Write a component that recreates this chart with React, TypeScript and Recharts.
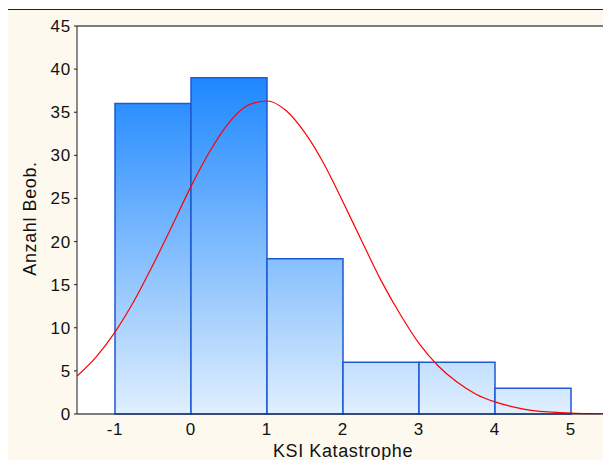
import React from "react";
import {
  Bar,
  CartesianGrid,
  ComposedChart,
  Line,
  XAxis,
  YAxis,
} from "recharts";

// ─── Data ────────────────────────────────────────────────────

const binCenters = [-0.5, 0.5, 1.5, 2.5, 3.5, 4.5];
const binCounts = [36, 39, 18, 6, 6, 3];

const curveX = [
  -1.5, -1.25, -1, -0.75, -0.5, -0.25, 0, 0.25, 0.5, 0.75, 1, 1.25, 1.5, 1.75, 2,
  2.25, 2.5, 2.75, 3, 3.25, 3.5, 3.75, 4, 4.25, 4.5, 4.75, 5, 5.25, 5.5,
];
const curveY = [
  4.4, 6.6, 9.5, 13.1, 17.3, 21.8, 26.4, 30.5, 33.8, 35.8, 36.3, 35.2, 32.6, 29.0, 24.6,
  20.0, 15.5, 11.6, 8.2, 5.6, 3.7, 2.3, 1.4, 0.8, 0.4, 0.22, 0.11, 0.05, 0.02,
];

const xTicks = [-1, 0, 1, 2, 3, 4, 5];
const yTicks = [0, 5, 10, 15, 20, 25, 30, 35, 40, 45];

const binData = binCenters.map((x, i) => ({ x, count: binCounts[i] }));
const curveData = curveX.map((x, i) => ({ x, fit: curveY[i] }));

// ─── Styles ──────────────────────────────────────────────────

const font = "Arial, 'Liberation Sans', sans-serif";
const tickStyle = { fill: "#111", fontSize: 17, fontFamily: font, letterSpacing: 0.8 };
const frameStroke = "#1a1a1a";

function YLabel({ viewBox }: { viewBox?: { x: number; y: number; height: number } }) {
  if (!viewBox) return null;
  const cx = 30;
  const cy = viewBox.y + viewBox.height / 2 - 1.5;
  return (
    <text
      x={cx}
      y={cy}
      transform={`rotate(-90 ${cx} ${cy})`}
      textAnchor="middle"
      dominantBaseline="central"
      fill="#111"
      fontSize={18}
      letterSpacing={0.6}
      fontFamily={font}
    >
      Anzahl Beob.
    </text>
  );
}

export default function App() {
  return (
    <div
      style={{
        position: "relative",
        margin: -8,
        width: 611,
        height: 468,
        overflow: "hidden",
        fontFamily: font,
      }}
    >
      <div
        style={{
          position: "absolute",
          left: 6,
          top: 9,
          width: 640,
          height: 480,
          background: "#fdf9ee",
          border: "1px solid #222",
        }}
      />
      <div style={{ position: "absolute", left: 0, top: 0 }}>
        <ComposedChart
          width={611}
          height={468}
          data={binData}
          margin={{ top: 26, right: 2, bottom: 0, left: 0 }}
          barCategoryGap={0}
          barGap={0}
        >
          <defs>
            <linearGradient id="binFill" gradientUnits="userSpaceOnUse" x1="0" y1="81" x2="0" y2="414">
              <stop offset="0%" stopColor="#1f88ff" />
              <stop offset="100%" stopColor="#e0effd" />
            </linearGradient>
          </defs>
          <CartesianGrid
            vertical={false}
            horizontal
            fill="#ffffff"
            stroke="#e0e0e0"
            strokeWidth={2}
            xAxisId="main"
          />
          <XAxis
            xAxisId="bins"
            dataKey="x"
            type="number"
            domain={[-1.5, 5.5]}
            allowDataOverflow
            height={0}
            hide
          />
          <XAxis
            xAxisId="main"
            dataKey="x"
            type="number"
            domain={[-1.5, 5.5]}
            ticks={xTicks}
            allowDataOverflow
            height={54}
            tick={tickStyle}
            tickLine={false}
            tickMargin={3}
            axisLine={{ stroke: frameStroke }}
            label={{
              value: "KSI Katastrophe",
              position: "insideBottom",
              offset: 11,
              fill: "#111",
              fontSize: 18,
              letterSpacing: 0.6,
              fontFamily: font,
            }}
          />
          <XAxis
            xAxisId="top"
            orientation="top"
            dataKey="x"
            type="number"
            domain={[-1.5, 5.5]}
            ticks={xTicks}
            allowDataOverflow
            height={1}
            mirror
            tick={false}
            tickSize={4}
            tickLine={{ stroke: frameStroke }}
            axisLine={{ stroke: frameStroke }}
          />
          <YAxis
            yAxisId="left"
            domain={[0, 45]}
            ticks={yTicks}
            width={77}
            tick={tickStyle}
            tickSize={3}
            tickMargin={3}
            tickLine={{ stroke: frameStroke }}
            axisLine={{ stroke: frameStroke }}
            label={<YLabel />}
          />
          <YAxis
            yAxisId="right"
            orientation="right"
            domain={[0, 45]}
            ticks={yTicks}
            width={1}
            mirror
            tick={false}
            tickSize={4}
            tickLine={{ stroke: frameStroke }}
            axisLine={{ stroke: frameStroke }}
          />
          <Bar
            xAxisId="bins"
            yAxisId="left"
            dataKey="count"
            fill="url(#binFill)"
            stroke="#1d5ad4"
            strokeWidth={1.5}
            isAnimationActive={false}
          />
          <Line
            xAxisId="main"
            yAxisId="left"
            data={curveData}
            dataKey="fit"
            type="monotone"
            stroke="#ff0000"
            strokeWidth={1.2}
            dot={false}
            activeDot={false}
            isAnimationActive={false}
          />
        </ComposedChart>
      </div>
    </div>
  );
}
